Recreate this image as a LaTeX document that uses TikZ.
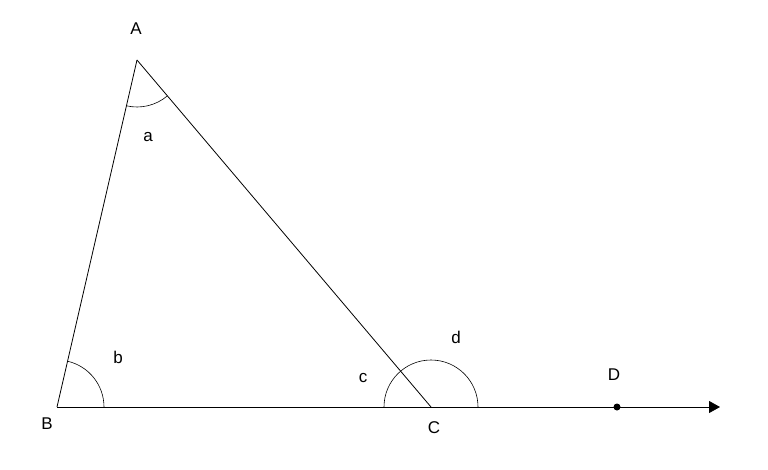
\documentclass[tikz,border=0pt]{standalone}
\usepackage{fontspec}
\setmainfont{Liberation Sans}
\usetikzlibrary{arrows.meta}
\usetikzlibrary{angles}

\begin{document}
\begin{tikzpicture}[x=1pt,y=-1pt,line width=0.8pt,
    lbl/.style={font=\fontsize{17}{20}\selectfont,inner sep=0pt},
    arcmark/.style={draw,line width=0.6pt,angle radius=47pt}]
                \useasboundingbox (0,0) rectangle (768,469);
                \coordinate (A) at (137,60);
                \coordinate (B) at (57,407);
                \coordinate (C) at (431,407);
                \coordinate (D) at (617,407);
                \coordinate (E) at (720,407);

                \node[lbl] (labA) at (136,29) {A};
                \node[lbl] (labB) at (47,424) {B};
                \node[lbl] (labC) at (434,428) {C};
                \node[lbl] (labD) at (614,375) {D};
                \node[lbl] (laba) at (148,137) {a};
                \node[lbl] (labb) at (118,357) {b};
                \node[lbl] (labc) at (363,378) {c};
                \node[lbl] (labd) at (456,337) {d};

                \draw (A) -- (B);
                \draw (A) -- (C);
                \draw[-{Triangle[length=11pt,width=12pt]}] (B) -- (E);
                \fill (D) circle (3.5);

                \pic[arcmark] {angle=B--A--C};
                \pic[arcmark] {angle=C--B--A};
                \pic[arcmark] {angle=D--C--B};
            \end{tikzpicture}
\end{document}
